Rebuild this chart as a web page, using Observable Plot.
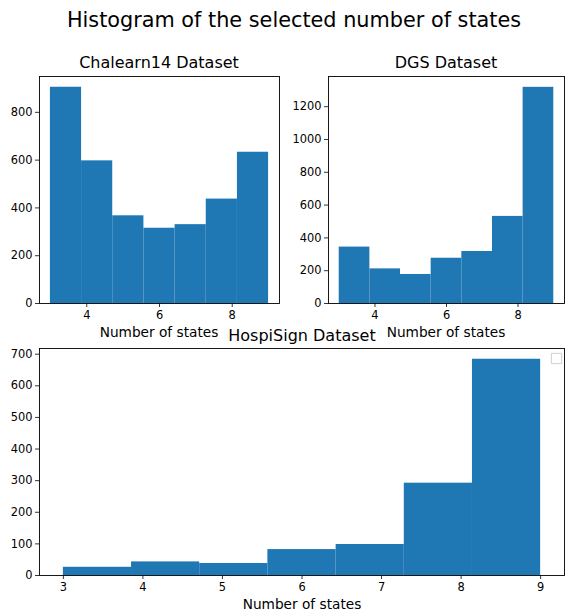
<!DOCTYPE html>
<html>
<head>
<meta charset="utf-8">
<script src="https://cdn.jsdelivr.net/npm/d3@7"></script>
<script src="https://cdn.jsdelivr.net/npm/@observablehq/plot@0.6"></script>
<style>
  body { margin: 0; background: #fff; }
  #fig { position: relative; width: 565px; height: 612px; background: #fff; font-family: "DejaVu Sans", sans-serif; color: #000; overflow: hidden; }
  .txt { position: absolute; white-space: nowrap; transform: translate(-50%, -50%); line-height: 1; }
  .plot { position: absolute; }
  .plot svg { overflow: visible; }
</style>
</head>
<body>
<div id="fig"></div>
<script>
// Bin edges (matplotlib default 7 bins between 3 and 9)
const binEdges = [3, 3.857, 4.714, 5.571, 6.429, 7.286, 8.143, 9];

// Counts per bin
const chalearnCounts = [905, 597, 367, 315, 330, 437, 633];
const dgsCounts = [344, 211, 177, 276, 317, 531, 1318];
const hospiCounts = [26, 43, 38, 82, 98, 292, 684];

// Tick labels
const xTicksTop = [4, 6, 8];
const xTicksBottom = [3, 4, 5, 6, 7, 8, 9];
const yTicksChalearn = [0, 200, 400, 600, 800];
const yTicksDGS = [0, 200, 400, 600, 800, 1000, 1200];
const yTicksHospi = [0, 100, 200, 300, 400, 500, 600, 700];

const suptitle = "Histogram of the selected number of states";
const titles = ["Chalearn14 Dataset", "DGS Dataset", "HospiSign Dataset"];
const xLabel = "Number of states";

const fig = document.getElementById("fig");

function toBins(counts) {
  return counts.map((c, i) => ({x1: binEdges[i], x2: binEdges[i + 1], count: c}));
}

function hist({counts, xTicks, yTicks, ymax, left, top, width, height, margins, legend}) {
  const fmt = d => String(d);
  const marks = [
    Plot.rectY(toBins(counts), {x1: "x1", x2: "x2", y: "count", fill: "#1f77b4", inset: 0}),
    Plot.axisX({ticks: xTicks, tickFormat: fmt, tickSize: 4, tickPadding: 3, fontSize: 11.4, label: null, stroke: "#000", strokeOpacity: 1, strokeWidth: 0.8}),
    Plot.axisY({ticks: yTicks, tickFormat: fmt, tickSize: 4, tickPadding: 3, fontSize: 11.4, label: null, stroke: "#000", strokeOpacity: 1, strokeWidth: 0.8}),
    Plot.frame({stroke: "#000", strokeWidth: 0.9})
  ];
  if (legend) {
    marks.push(Plot.dot([0], {frameAnchor: "top-right", dx: -8, dy: 10, symbol: "square", r: 5.8, stroke: "#d0d0d0", fill: "#fff", strokeWidth: 1}));
  }
  const svg = Plot.plot({
    width, height,
    marginLeft: margins[0], marginRight: margins[1], marginTop: margins[2], marginBottom: margins[3],
    x: {domain: [2.7, 9.3]},
    y: {domain: [0, ymax]},
    style: {fontFamily: "DejaVu Sans, sans-serif", background: "transparent", color: "#000", fontSize: "11.4px"},
    marks
  });
  const wrap = document.createElement("div");
  wrap.className = "plot";
  wrap.style.left = left + "px";
  wrap.style.top = top + "px";
  wrap.appendChild(svg);
  fig.appendChild(wrap);
}

function text(str, x, y, size) {
  const d = document.createElement("div");
  d.className = "txt";
  d.textContent = str;
  d.style.left = x + "px";
  d.style.top = y + "px";
  d.style.fontSize = size + "px";
  fig.appendChild(d);
}

// Top-left: frame x 39–279, y 76–303
hist({counts: chalearnCounts, xTicks: xTicksTop, yTicks: yTicksChalearn, ymax: 950,
      left: 0, top: 66, width: 290, height: 262, margins: [39, 11, 10, 25]});
// Top-right: frame x 328–564
hist({counts: dgsCounts, xTicks: xTicksTop, yTicks: yTicksDGS, ymax: 1384,
      left: 290, top: 66, width: 275, height: 262, margins: [38, 1, 10, 25]});
// Bottom: frame x 39–564, y 348–575
hist({counts: hospiCounts, xTicks: xTicksBottom, yTicks: yTicksHospi, ymax: 718,
      left: 0, top: 338, width: 565, height: 262, margins: [39, 1, 10, 25], legend: true});

text(suptitle, 294, 20, 20.8);
text(titles[0], 159, 63, 16);
text(titles[1], 446, 63, 16);
text(titles[2], 302, 336, 16);
text(xLabel, 159, 333, 13.7);
text(xLabel, 446, 333, 13.7);
text(xLabel, 302, 605, 13.7);
</script>
</body>
</html>
